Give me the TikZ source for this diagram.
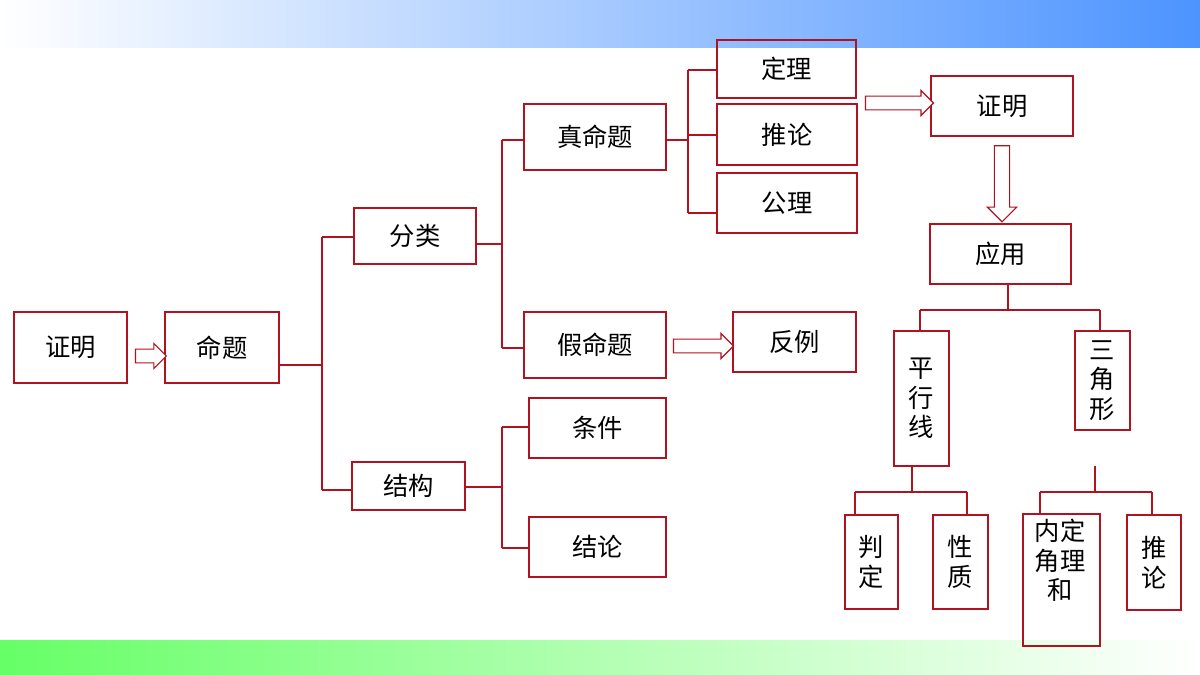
\documentclass[tikz,border=0pt]{standalone}
\usepackage{fontspec}
\setmainfont{Noto Sans CJK SC}
\usetikzlibrary{shapes.arrows}
\definecolor{dr}{HTML}{B0121F}
\begin{document}
\begin{tikzpicture}[x=0.025cm,y=-0.025cm,
  box/.style={draw=dr,line width=1.4pt,font=\fontsize{18}{21}\selectfont},
  ln/.style={draw=dr,line width=1.4pt},
  harr/.style={single arrow,draw=dr,fill=white,line width=0.8pt,single arrow head extend=4pt,inner xsep=0pt,inner ysep=4.5pt,minimum height=#1,single arrow head indent=0pt}]
\useasboundingbox (0,0) rectangle (1200,675);
\shade[left color=white,right color=blue!60!cyan!70] (0,0) rectangle (1200,48);
\shade[left color=green!60,right color=white] (0,640) rectangle (1200,675);
\newcommand\bx[6]{\node[box,minimum width=(#4-#2)*0.025cm,minimum height=(#5-#3)*0.025cm,inner sep=0pt,align=center] (#1) at ({(#2+#4)/2},{(#3+#5)/2}) {#6};}
\bx{zm}{14}{312}{127}{383}{证明}
\bx{mt}{165}{312}{279}{383}{命题}
\bx{fl}{354}{208}{476}{264}{分类}
\bx{jg}{352}{462}{465}{510}{结构}
\bx{zmt}{524}{104}{666}{170}{真命题}
\bx{jmt}{524}{312}{666}{378}{假命题}
\bx{dl}{717}{40}{856}{98}{定理}
\bx{tl}{717}{104}{857}{165}{推论}
\bx{gl}{717}{173}{857}{233}{公理}
\bx{zm2}{931}{76}{1073}{136}{证明}
\bx{fli}{733}{312}{856}{372}{反例}
\bx{tj}{529}{398}{666}{458}{条件}
\bx{jl}{529}{517}{666}{577}{结论}
\bx{yy}{930}{224}{1071}{284}{应用}
\bx{pxx}{894}{331}{949}{466}{平\\行\\线}
\bx{sjx}{1075}{331}{1130}{430}{三\\角\\形}
\bx{pd}{845}{515}{898}{609}{判\\定}
\bx{xz}{933}{515}{988}{609}{性\\质}
\node[box,minimum width=77*0.025cm,minimum height=132*0.025cm,inner sep=0pt,anchor=north west] (njh) at (1022,513) {};
\node[font=\fontsize{18}{21}\selectfont,anchor=north,align=center,inner sep=0pt] (njht) at (1060,519) {内定\\角理\\和};
\bx{tl2}{1127}{515}{1181}{610}{推\\论}
% tree lines
\coordinate (a0) at (322,365); \coordinate (a1) at (322,237); \coordinate (a2) at (322,490);
\draw[ln] (mt.east |- a0) -- (a0) (a1) -- (a2) (a1) -- (a1 -| fl.west) (a2) -- (a2 -| jg.west);
\coordinate (b1) at (502,140); \coordinate (b2) at (502,348);
\draw[ln] (fl.east |- 502,244) -- (502,244) (b1) -- (b2) (b1) -- (b1 -| zmt.west) (b2) -- (b2 -| jmt.west);
\coordinate (c1) at (688,70); \coordinate (c2) at (688,135); \coordinate (c3) at (688,213);
\draw[ln] (zmt.east |- 688,140) -- (688,140) (c1) -- (c3) (c1) -- (c1 -| dl.west) (c2) -- (c2 -| tl.west) (c3) -- (c3 -| gl.west);
\coordinate (d1) at (502,427); \coordinate (d2) at (502,548);
\draw[ln] (jg.east |- 502,487) -- (502,487) (d1) -- (d2) (d1) -- (d1 -| tj.west) (d2) -- (d2 -| jl.west);
\coordinate (e1) at (920,310); \coordinate (e2) at (1100,310);
\draw[ln] (yy.south -| 1008,0) -- (1008,310) (e1) -- (e2) (e1) -- (e1 |- pxx.north) (e2) -- (e2 |- sjx.north);
\coordinate (f1) at (855,492); \coordinate (f2) at (967,492);
\draw[ln] (pxx.south -| 912,0) -- (912,492) (f1) -- (f2) (f1) -- (f1 |- pd.north) (f2) -- (f2 |- xz.north);
\coordinate (g0) at (1095,466); \coordinate (g1) at (1040,492); \coordinate (g2) at (1152,492);
\draw[ln] (g0) -- (1095,492) (g1) -- (g2) (g1) -- (g1 |- njh.north) (g2) -- (g2 |- tl2.north);
% hollow arrows
\node[harr=31*0.025cm] (h1) at (147.5,356) {};
\node[harr=60*0.025cm] (h2) at (700,346) {};
\node[harr=68*0.025cm] (h3) at (896,103) {};
\node[harr=76*0.025cm,rotate=-90,inner ysep=5pt,single arrow head extend=5pt] (h4) at (1002,180) {};
\end{tikzpicture}
\end{document}
